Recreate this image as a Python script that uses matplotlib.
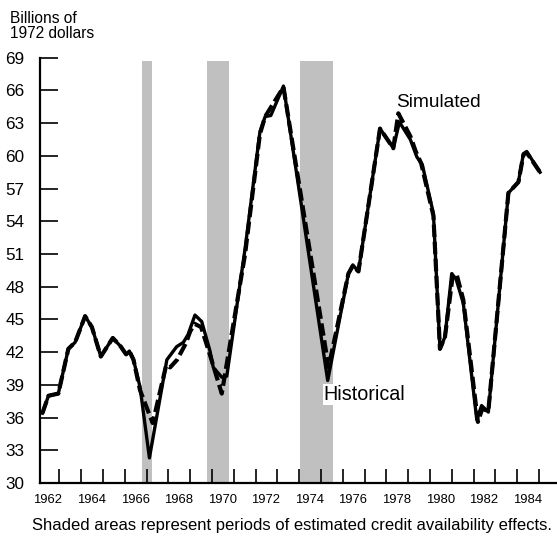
import matplotlib
matplotlib.use("Agg")
import matplotlib.pyplot as plt
from matplotlib.ticker import FixedLocator, NullFormatter

plt.rcParams['font.family'] = ['Liberation Sans', 'DejaVu Sans']

# ---- data ----
hist_t = [1962.22, 1962.5, 1962.95, 1963.41, 1963.72, 1964.18, 1964.49, 1964.9,
          1965.45, 1965.82, 1966.06, 1966.21, 1966.4, 1966.7, 1967.13, 1967.93,
          1968.38, 1968.69, 1968.9, 1969.22, 1969.53, 1969.91, 1970.06, 1970.45,
          1970.68, 1971.52, 1972.2, 1972.44, 1972.7, 1973.28, 1975.31, 1976.26,
          1976.46, 1976.72, 1977.71, 1978.32, 1978.6, 1979.1, 1979.4, 1979.65,
          1980.16, 1980.46, 1980.69, 1981.0, 1981.2, 1981.53, 1982.15, 1982.37,
          1982.68, 1983.6, 1984.06, 1984.29, 1984.44, 1985.05]
hist_v = [36.4, 38.0, 38.2, 42.3, 42.9, 45.3, 44.3, 41.6,
          43.3, 42.5, 41.8, 42.1, 41.3, 38.8, 32.3, 41.3,
          42.5, 42.9, 43.6, 45.4, 44.8, 42.1, 40.6, 39.7,
          39.8, 51.5, 62.2, 63.6, 63.7, 66.4, 39.4, 49.2,
          50.0, 49.4, 62.5, 60.7, 63.1, 61.5, 59.9, 59.2,
          54.7, 42.3, 43.4, 49.2, 48.7, 46.5, 35.8, 37.1,
          36.5, 56.6, 57.6, 60.2, 60.4, 58.5]

sim_t = [1962.22, 1962.5, 1962.95, 1963.41, 1963.72, 1964.18, 1964.49, 1964.9,
         1965.45, 1965.82, 1966.06, 1966.21, 1966.4, 1966.7, 1967.28, 1967.9,
         1968.08, 1968.4, 1968.8, 1969.0, 1969.2, 1969.5, 1969.9, 1970.45,
         1971.52, 1972.2, 1972.44, 1973.28, 1975.35, 1976.26, 1976.46, 1976.72,
         1977.71, 1978.32, 1978.55, 1979.1, 1979.35, 1979.6, 1980.16, 1980.46,
         1980.69, 1981.05, 1981.23, 1981.53, 1982.2, 1982.4, 1982.68, 1983.6,
         1984.06, 1984.29, 1984.44, 1985.05]
sim_v = [36.4, 38.0, 38.2, 42.3, 42.9, 45.3, 44.3, 41.6,
         43.3, 42.5, 41.8, 42.1, 41.3, 38.5, 35.5, 40.8,
         40.6, 41.3, 42.8, 43.9, 44.6, 44.3, 41.8, 38.2,
         51.0, 62.0, 63.6, 66.3, 40.6, 49.2, 49.9, 49.4,
         62.5, 60.7, 63.9, 61.8, 60.4, 59.3, 54.5, 42.3,
         43.4, 49.1, 49.1, 46.8, 35.6, 36.8, 36.6, 56.6,
         57.6, 60.1, 60.3, 58.5]

shade_periods = [(1966.77, 1967.25), (1969.78, 1970.76), (1974.05, 1975.55)]
label_years = list(range(1962, 1986, 2))
yticks = [30, 33, 36, 39, 42, 45, 48, 51, 54, 57, 60, 63, 66, 69]

# ---- figure ----
W, H = 557, 540
fig = plt.figure(figsize=(W / 100, H / 100), dpi=100)
ax = fig.add_axes([40 / W, (H - 483) / H, (W - 40) / W, (483 - 57.7) / H])
ax.set_xlim(1962.11, 1985.83)
ax.set_ylim(30, 69)

for a, b in shade_periods:
    ax.fill_between([a, b], 30, 68.7, color='#c0c0c0', lw=0, zorder=1)

ax.plot(hist_t, hist_v, color='black', lw=2.4, solid_joinstyle='round', zorder=3)
ax.plot(sim_t, sim_v, color='black', lw=3.0, dashes=(3, 1.1), zorder=4)

for s in ['top', 'right']:
    ax.spines[s].set_visible(False)
for s in ['left', 'bottom']:
    ax.spines[s].set_linewidth(1.6)

ax.set_yticks(yticks)
ax.set_yticklabels([str(v) for v in yticks], fontsize=12.3)
ax.tick_params(axis='y', direction='in', length=13, width=1.2, pad=11)

ax.xaxis.set_major_locator(FixedLocator(list(range(1963, 1986))))
ax.xaxis.set_major_formatter(NullFormatter())
ax.xaxis.set_minor_locator(FixedLocator([y + 0.47 for y in label_years]))
ax.set_xticklabels([str(y) for y in label_years], minor=True, fontsize=9.4)
ax.tick_params(axis='x', which='major', direction='in', length=10, width=1.2)
ax.tick_params(axis='x', which='minor', length=0, pad=8)

ax.text(1978.45, 64.5, 'Simulated', fontsize=13.8, ha='left', va='baseline', zorder=5)
ax.text(1975.12, 37.6, 'Historical', fontsize=14.2, ha='left', va='baseline', zorder=5,
        bbox=dict(facecolor='white', edgecolor='none', pad=0.5))

fig.text(10 / W, 1 - 11 / H, 'Billions of\n1972 dollars', fontsize=11.2,
         ha='left', va='top', linespacing=1.0)
fig.text(32 / W, 1 - 530 / H,
         'Shaded areas represent periods of estimated credit availability effects.',
         fontsize=12, ha='left', va='baseline')

fig.savefig('out.png', dpi=100)
